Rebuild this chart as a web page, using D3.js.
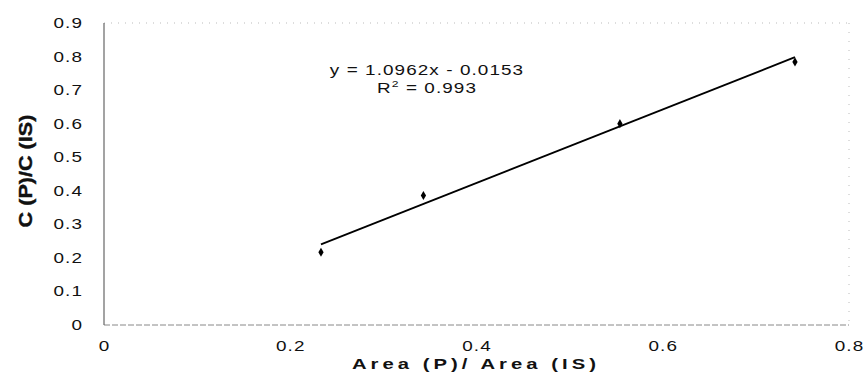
<!DOCTYPE html>
<html><head><meta charset="utf-8">
<script src="https://cdn.jsdelivr.net/npm/d3@7"></script>
<style>body{margin:0;background:#fff;} svg{display:block;} text{font-family:"Liberation Sans",Arial,sans-serif;}</style>
</head><body>
<svg id="c" width="866" height="379"></svg>
<script>
const xVals = [0.233, 0.343, 0.554, 0.742];
const yVals = [0.217, 0.386, 0.600, 0.784];
const xTicks = [0, 0.2, 0.4, 0.6, 0.8];
const yTicks = [0, 0.1, 0.2, 0.3, 0.4, 0.5, 0.6, 0.7, 0.8, 0.9];
const slope = 1.0962, intercept = -0.0153;
const eqText = "y = 1.0962x - 0.0153";
const r2Text = "0.993";

const S = 1.35; // horizontal stretch of the text
const svg = d3.select("#c");
const x = d3.scaleLinear().domain([0, 0.8]).range([104, 849]);
const y = d3.scaleLinear().domain([0, 0.9]).range([325, 23]);
const fmt = d => d === 0 ? "0" : d3.format(".1f")(d);

// frame
svg.append("line").attr("x1", x(0)).attr("x2", x(0.8)).attr("y1", y(0.9)).attr("y2", y(0.9))
  .attr("stroke", "#bbb").attr("stroke-dasharray", "1,6");
svg.append("line").attr("x1", x(0.8)).attr("x2", x(0.8)).attr("y1", y(0.9)).attr("y2", y(0))
  .attr("stroke", "#bbb").attr("stroke-dasharray", "1,8");
svg.append("line").attr("x1", x(0)).attr("x2", x(0.8)).attr("y1", y(0)).attr("y2", y(0))
  .attr("stroke", "#888").attr("stroke-dasharray", "6,2");
svg.append("line").attr("x1", x(0)).attr("x2", x(0)).attr("y1", y(0.9)).attr("y2", y(0))
  .attr("stroke", "#666").attr("stroke-width", 1.2);

// tick labels via axes
const ya = svg.append("g").attr("transform", `translate(${x(0)},0)`)
  .call(d3.axisLeft(y).tickValues(yTicks).tickFormat(fmt).tickSize(0).tickPadding(21));
ya.select(".domain").remove();
ya.selectAll("text").attr("font-size", 14).attr("fill", "#111").attr("letter-spacing", "0.8px")
  .attr("x", -21 / S).attr("transform", `scale(${S},1)`)
  .style("font-family", "Liberation Sans, Arial, sans-serif");

const xa = svg.append("g").attr("transform", `translate(0,${y(0)})`)
  .call(d3.axisBottom(x).tickValues(xTicks).tickFormat(fmt).tickSize(0).tickPadding(16));
xa.select(".domain").remove();
xa.selectAll("text").attr("font-size", 14).attr("fill", "#111").attr("letter-spacing", "0.8px")
  .attr("transform", `scale(${S},1)`)
  .style("font-family", "Liberation Sans, Arial, sans-serif");

// trendline
const x0 = d3.min(xVals), x1 = d3.max(xVals);
svg.append("line")
  .attr("x1", x(x0)).attr("y1", y(slope * x0 + intercept))
  .attr("x2", x(x1)).attr("y2", y(slope * x1 + intercept))
  .attr("stroke", "#000").attr("stroke-width", 1.8);

// points (diamonds)
svg.selectAll("path.pt").data(xVals.map((v, i) => [v, yVals[i]])).join("path")
  .attr("class", "pt")
  .attr("d", d3.symbol(d3.symbolDiamond, 24))
  .attr("transform", d => `translate(${x(d[0])},${y(d[1])})`)
  .attr("fill", "#000");

// equation
svg.append("text").attr("transform", `translate(427,75) scale(${S},1)`).attr("text-anchor", "middle")
  .attr("font-size", 14).attr("letter-spacing", "0.8px").attr("fill", "#111").text(eqText);
const r = svg.append("text").attr("transform", `translate(427,93) scale(${S},1)`).attr("text-anchor", "middle")
  .attr("font-size", 14).attr("letter-spacing", "0.8px").attr("fill", "#111");
r.append("tspan").text("R");
r.append("tspan").attr("font-size", 9).attr("dy", -6).text("2");
r.append("tspan").attr("dy", 6).text(" = " + r2Text);

// axis titles
svg.append("text").attr("transform", `translate(476,369) scale(${S},1)`).attr("text-anchor", "middle")
  .attr("font-size", 15).attr("font-weight", "bold").attr("letter-spacing", "3px")
  .attr("fill", "#111").text("Area (P)/ Area (IS)");
svg.append("text").attr("transform", "translate(26,171) rotate(-90) scale(1.2,1)").attr("text-anchor", "middle")
  .attr("dy", "0.35em").attr("font-size", 18).attr("font-weight", "bold").attr("fill", "#111")
  .attr("stroke", "#111").attr("stroke-width", 0.4).text("C (P)/C (IS)");
</script>
</body></html>
